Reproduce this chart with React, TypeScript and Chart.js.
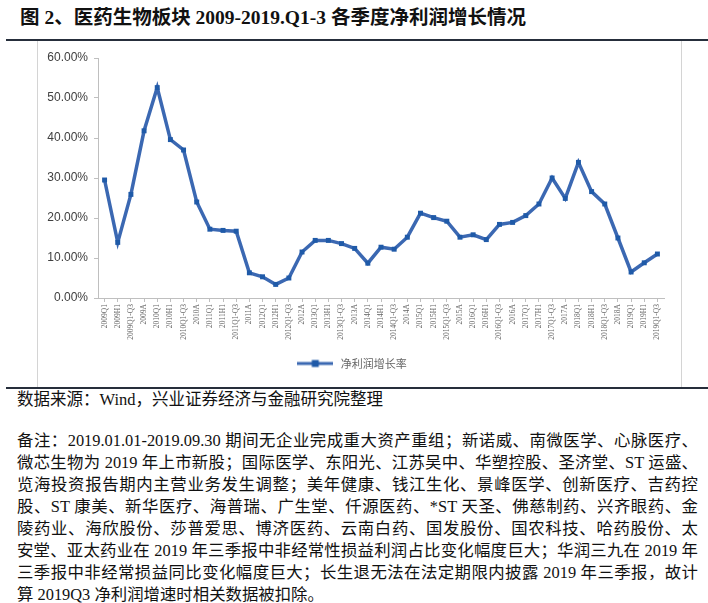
import React, { useEffect, useRef } from "react";
import { Chart, registerables } from "chart.js";

Chart.register(...registerables);

const categories: string[] = [
  "2009Q1", "2009H1", "2009Q1-Q3", "2009A",
  "2010Q1", "2010H1", "2010Q1-Q3", "2010A",
  "2011Q1", "2011H1", "2011Q1-Q3", "2011A",
  "2012Q1", "2012H1", "2012Q1-Q3", "2012A",
  "2013Q1", "2013H1", "2013Q1-Q3", "2013A",
  "2014Q1", "2014H1", "2014Q1-Q3", "2014A",
  "2015Q1", "2015H1", "2015Q1-Q3", "2015A",
  "2016Q1", "2016H1", "2016Q1-Q3", "2016A",
  "2017Q1", "2017H1", "2017Q1-Q3", "2017A",
  "2018Q1", "2018H1", "2018Q1-Q3", "2018A",
  "2019Q1", "2019H1", "2019Q1-Q3",
];

const growthRate: number[] = [
  29.5, 13.9, 25.9, 41.8,
  52.6, 39.6, 37.0, 24.0,
  17.2, 16.9, 16.7, 6.3,
  5.3, 3.4, 5.0, 11.5,
  14.4, 14.4, 13.6, 12.4,
  8.7, 12.7, 12.2, 15.2,
  21.2, 20.1, 19.2, 15.2,
  15.8, 14.6, 18.4, 18.9,
  20.6, 23.5, 30.0, 24.9,
  33.9, 26.6, 23.5, 15.0,
  6.5, 8.8, 11.0,
];

const seriesName = "净利润增长率";
const yTicksMax = 60;
const yTicksStep = 10;

const titleText = "图 2、医药生物板块 2009-2019.Q1-3 各季度净利润增长情况";
const sourceText = "数据来源：Wind，兴业证券经济与金融研究院整理";
const noteLines: string[] = [
  "备注：2019.01.01-2019.09.30 期间无企业完成重大资产重组；新诺威、南微医学、心脉医疗、",
  "微芯生物为 2019 年上市新股；国际医学、东阳光、江苏吴中、华塑控股、圣济堂、ST 运盛、",
  "览海投资报告期内主营业务发生调整；美年健康、钱江生化、景峰医学、创新医疗、吉药控",
  "股、ST 康美、新华医疗、海普瑞、广生堂、仟源医药、*ST 天圣、佛慈制药、兴齐眼药、金",
  "陵药业、海欣股份、莎普爱思、博济医药、云南白药、国发股份、国农科技、哈药股份、太",
  "安堂、亚太药业在 2019 年三季报中非经常性损益利润占比变化幅度巨大；华润三九在 2019 年",
  "三季报中非经常损益同比变化幅度巨大；长生退无法在法定期限内披露 2019 年三季报，故计",
  "算 2019Q3 净利润增速时相关数据被扣除。",
];

const LINE_COLOR = "#3b68b2";
const POINT_COLOR = "#1f5aa8";
const SERIF = '"Liberation Serif", "Noto Sans CJK SC", serif';

function makeLegendSymbol(): HTMLCanvasElement {
  const c = document.createElement("canvas");
  c.width = 36;
  c.height = 10;
  const ctx = c.getContext("2d")!;
  ctx.strokeStyle = LINE_COLOR;
  ctx.lineWidth = 3;
  ctx.beginPath();
  ctx.moveTo(0, 5);
  ctx.lineTo(36, 5);
  ctx.stroke();
  ctx.fillStyle = POINT_COLOR;
  ctx.fillRect(14.5, 1.5, 7, 7);
  return c;
}

function LineChart() {
  const ref = useRef<HTMLCanvasElement | null>(null);
  useEffect(() => {
    if (!ref.current) return;
    const symbol = makeLegendSymbol();
    const chart = new Chart(ref.current, {
      type: "line",
      data: {
        labels: categories,
        datasets: [
          {
            label: seriesName,
            data: growthRate,
            borderColor: LINE_COLOR,
            backgroundColor: POINT_COLOR,
            borderWidth: 3.5,
            pointStyle: "rect",
            pointRadius: 3.5,
            pointBackgroundColor: POINT_COLOR,
            pointBorderColor: POINT_COLOR,
            pointBorderWidth: 0,
            tension: 0,
            fill: false,
          },
        ],
      },
      options: {
        animation: false,
        responsive: true,
        maintainAspectRatio: false,
        layout: { padding: { top: 16, right: 16, bottom: 8, left: 0 } },
        plugins: {
          tooltip: { enabled: false },
          legend: {
            display: true,
            position: "bottom",
            labels: {
              usePointStyle: true,
              pointStyle: symbol as any,
              pointStyleWidth: 40,
              boxHeight: 10,
              padding: 10,
              color: "#666666",
              font: { family: '"Noto Sans CJK SC", sans-serif', size: 11 },
            },
          },
        },
        scales: {
          x: {
            type: "category",
            offset: true,
            afterFit: (scale: any) => {
              scale.height = 50;
            },
            grid: {
              display: true,
              drawOnChartArea: false,
              drawTicks: true,
              tickLength: 4,
              color: "#bfbfbf",
            },
            border: { display: true, color: "#bfbfbf", width: 1 },
            ticks: {
              autoSkip: false,
              minRotation: 90,
              maxRotation: 90,
              padding: 2,
              color: "#666666",
              font: { family: SERIF, size: 7.5 },
            },
          },
          y: {
            min: 0,
            max: yTicksMax,
            afterFit: (scale: any) => {
              scale.width = 60;
            },
            grid: {
              display: true,
              drawOnChartArea: false,
              drawTicks: true,
              tickLength: 4,
              color: "#bfbfbf",
            },
            border: { display: true, color: "#bfbfbf", width: 1 },
            ticks: {
              stepSize: yTicksStep,
              padding: 6,
              color: "#404040",
              font: { family: '"Liberation Sans", Arial, sans-serif', size: 12 },
              callback: (v: any) => Number(v).toFixed(2) + "%",
            },
          },
        },
      },
    });
    return () => chart.destroy();
  }, []);
  return <canvas ref={ref} />;
}

export default function App() {
  return (
    <div
      style={{
        position: "absolute",
        left: 0,
        top: 0,
        width: 708,
        height: 603,
        background: "#ffffff",
        overflow: "hidden",
        fontFamily: SERIF,
      }}
    >
      <div
        style={{
          position: "absolute",
          left: 20,
          top: 6,
          fontSize: 19.5,
          fontWeight: "bold",
          lineHeight: "24px",
          color: "#111111",
          whiteSpace: "nowrap",
        }}
      >
        {titleText}
      </div>
      <div style={{ position: "absolute", left: 6, top: 39, width: 702, height: 2, background: "#262e3b" }} />
      <div style={{ position: "absolute", left: 37, top: 41, width: 1, height: 346, background: "#d4d4d4" }} />
      <div style={{ position: "absolute", left: 681, top: 41, width: 1, height: 346, background: "#d4d4d4" }} />
      <div style={{ position: "absolute", left: 38, top: 42, width: 642, height: 345 }}>
        <LineChart />
      </div>
      <div style={{ position: "absolute", left: 6, top: 387, width: 702, height: 2, background: "#262e3b" }} />
      <div
        style={{
          position: "absolute",
          left: 17,
          top: 389,
          fontSize: 16.5,
          lineHeight: "22px",
          color: "#111111",
          whiteSpace: "nowrap",
        }}
      >
        {sourceText}
      </div>
      <div style={{ position: "absolute", left: 17, top: 430, width: 681, color: "#111111" }}>
        {noteLines.map((line, i) => (
          <div
            key={i}
            style={{
              fontSize: 16.4,
              lineHeight: "22px",
              height: 22,
              whiteSpace: "nowrap",
              textAlign: "justify",
              textAlignLast: i === noteLines.length - 1 ? "left" : "justify",
            }}
          >
            {line}
          </div>
        ))}
      </div>
    </div>
  );
}
